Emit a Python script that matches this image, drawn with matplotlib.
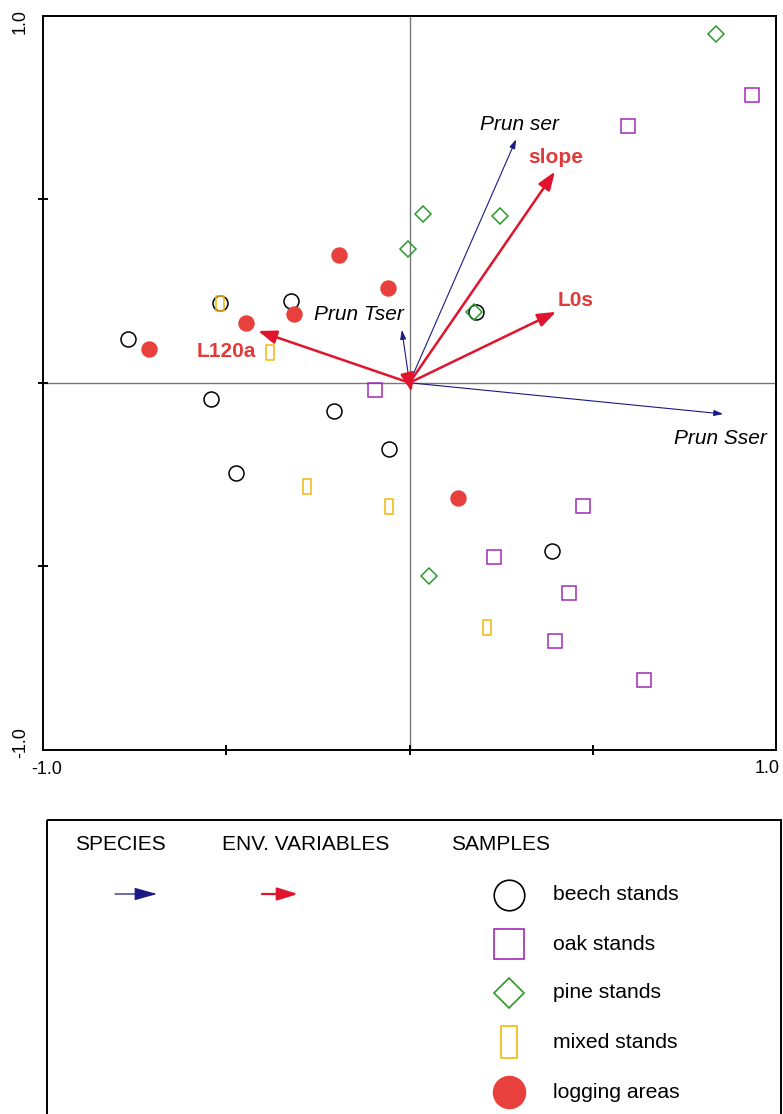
import numpy as np
import matplotlib
matplotlib.use('Agg')
import matplotlib.pyplot as plt
from matplotlib.patches import Rectangle
from matplotlib.path import Path

plt.rcParams['font.family'] = ['Liberation Sans', 'DejaVu Sans']

# sample scores (axis 1, axis 2)
beech_x = [-0.768, -0.517, -0.324, 0.181, -0.542, -0.205, -0.473, -0.055, 0.390]
beech_y = [0.119, 0.217, 0.222, 0.193, -0.043, -0.078, -0.245, -0.181, -0.457]
oak_x = [0.935, 0.597, -0.094, 0.474, 0.231, 0.434, 0.398, 0.641]
oak_y = [0.784, 0.699, -0.020, -0.336, -0.475, -0.572, -0.703, -0.810]
pine_x = [0.835, 0.038, 0.247, -0.003, 0.177, 0.054]
pine_y = [0.949, 0.459, 0.454, 0.364, 0.193, -0.527]
mixed_x = [-0.517, -0.381, -0.281, -0.055, 0.212]
mixed_y = [0.217, 0.084, -0.281, -0.336, -0.665]
logging_x = [-0.710, -0.446, -0.314, -0.193, -0.059, 0.131]
logging_y = [0.092, 0.164, 0.186, 0.347, 0.259, -0.313]

# species vectors
species_names = ['Prun ser', 'Prun Tser', 'Prun Sser']
species_x = [0.291, -0.021, 0.856]
species_y = [0.663, 0.144, -0.085]
species_lab_x = [0.301, -0.138, 0.848]
species_lab_y = [0.702, 0.187, -0.151]

# environmental variables
env_names = ['slope', 'L0s', 'L120a', '']
env_x = [0.397, 0.400, -0.413, 0.006]
env_y = [0.575, 0.193, 0.141, -0.025]
env_lab_x = [0.398, 0.452, -0.500, 0.0]
env_lab_y = [0.612, 0.225, 0.086, 0.0]

legend_groups = ['SPECIES', 'ENV. VARIABLES', 'SAMPLES']
sample_names = ['beech stands', 'oak stands', 'pine stands', 'mixed stands', 'logging areas']

navy = '#1a1a86'
red_arrow = '#e0142c'
red_text = '#e23a3a'
red_dot = '#e8403c'
purple = '#a22ab8'
green = '#2a9a2a'
yellow = '#f5b50a'

rect_marker = Path([(-0.5, -1), (0.5, -1), (0.5, 1), (-0.5, 1), (-0.5, -1)],
                   [Path.MOVETO, Path.LINETO, Path.LINETO, Path.LINETO, Path.CLOSEPOLY])

W, H = 783, 1114
fig = plt.figure(figsize=(W / 100, H / 100), dpi=100)
ax = fig.add_axes([43 / W, 1 - 750 / H, 733 / W, 734.5 / H])
ax.set_xlim(-1, 1)
ax.set_ylim(-1, 1)

ax.axhline(0, color='#777777', lw=1.0, zorder=1)
ax.axvline(0, color='#777777', lw=1.0, zorder=1)

ms = 10.8
mew = 1.1
ax.plot(beech_x, beech_y, 'o', ms=ms, mfc='none', mec='black', mew=mew, zorder=3)
ax.plot(oak_x, oak_y, 's', ms=ms * 0.98, mfc='none', mec=purple, mew=mew, zorder=3)
ax.plot(pine_x, pine_y, 'D', ms=7.8, mfc='none', mec=green, mew=mew, zorder=3)
ax.plot(mixed_x, mixed_y, marker=rect_marker, ls='none', ms=ms, mfc='none', mec=yellow, mew=mew, zorder=3)
ax.plot(logging_x, logging_y, 'o', ms=ms, mfc=red_dot, mec=red_dot, zorder=3)

for name, x, y, lx, ly in zip(species_names, species_x, species_y, species_lab_x, species_lab_y):
    ax.annotate('', xy=(x, y), xytext=(0, 0),
                arrowprops=dict(arrowstyle='-|>,head_length=0.5,head_width=0.16', color=navy,
                                lw=0.8, mutation_scale=11, shrinkA=0, shrinkB=0), zorder=4)
    ax.text(lx, ly, name, style='italic', fontsize=15, ha='center', va='center', color='black', zorder=5)

for name, x, y, lx, ly in zip(env_names, env_x, env_y, env_lab_x, env_lab_y):
    ax.annotate('', xy=(x, y), xytext=(0, 0),
                arrowprops=dict(arrowstyle='-|>,head_length=0.65,head_width=0.24', color=red_arrow,
                                lw=1.8, mutation_scale=17, shrinkA=0, shrinkB=0), zorder=4)
    if name:
        ax.text(lx, ly, name, fontweight='bold', fontsize=15, ha='center', va='center', color=red_text, zorder=5)

for s in ax.spines.values():
    s.set_linewidth(1.4)
    s.set_color('black')
ax.set_xticks([-0.5, 0, 0.5])
ax.set_yticks([-0.5, 0, 0.5])
ax.tick_params(direction='inout', length=7, width=1.4, labelbottom=False, labelleft=False)

ax.text(-0.99, -1.053, '-1.0', fontsize=13, ha='center', va='center', clip_on=False)
ax.text(0.975, -1.05, '1.0', fontsize=13, ha='center', va='center', clip_on=False)
ax.text(-1.062, 0.985, '1.0', fontsize=13, ha='center', va='center', rotation=90, clip_on=False)
ax.text(-1.062, -0.98, '-1.0', fontsize=13, ha='center', va='center', rotation=90, clip_on=False)

# legend panel in pixel coordinates
lg = fig.add_axes([0, 0, 1, 1])
lg.set_xlim(0, W)
lg.set_ylim(H, 0)
lg.axis('off')
lg.add_patch(Rectangle((47, 820), 734, 320, fill=False, ec='black', lw=1.4))

group_x = [75, 222, 451]
for gx, g in zip(group_x, legend_groups):
    lg.text(gx, 845, g, fontsize=15, ha='left', va='center')

lg.annotate('', xy=(157, 894), xytext=(115, 894),
            arrowprops=dict(arrowstyle='-|>,head_length=1.0,head_width=0.28', color=navy,
                            lw=0.9, mutation_scale=14, shrinkA=0, shrinkB=0))
lg.annotate('', xy=(298, 894), xytext=(262, 894),
            arrowprops=dict(arrowstyle='-|>,head_length=0.9,head_width=0.28', color=red_arrow,
                            lw=1.6, mutation_scale=14, shrinkA=0, shrinkB=0))

leg_y = [895, 944, 993, 1042, 1092]
lms = 22
lg.plot(509, leg_y[0], 'o', ms=lms, mfc='none', mec='black', mew=1.2)
lg.plot(509, leg_y[1], 's', ms=lms, mfc='none', mec=purple, mew=1.2)
lg.plot(509, leg_y[2], 'D', ms=lms * 0.68, mfc='none', mec=green, mew=1.2)
lg.plot(509, leg_y[3], marker=rect_marker, ls='none', ms=lms * 1.05, mfc='none', mec=yellow, mew=1.2)
lg.plot(509, leg_y[4], 'o', ms=lms * 1.05, mfc=red_dot, mec=red_dot)
for y, name in zip(leg_y, sample_names):
    lg.text(553, y, name, fontsize=15.2, ha='left', va='center')

fig.savefig('out.png', dpi=100)
